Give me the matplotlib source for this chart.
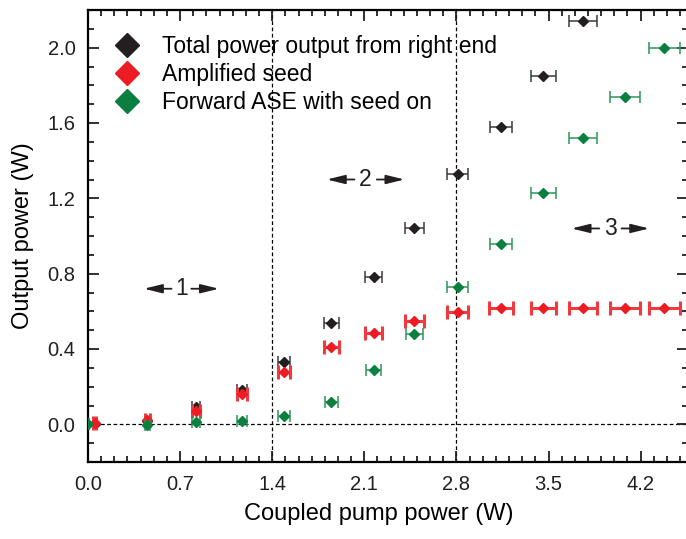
import matplotlib.pyplot as plt
from matplotlib.ticker import MultipleLocator, FormatStrFormatter
from matplotlib.lines import Line2D

plt.rcParams['font.family'] = ['Liberation Sans', 'DejaVu Sans']

# Data
pump_total = [0.05, 0.45, 0.82, 1.17, 1.49, 1.85, 2.17, 2.48, 2.81, 3.14, 3.46, 3.76]
total_out = [0.00, 0.02, 0.09, 0.18, 0.33, 0.54, 0.78, 1.04, 1.33, 1.58, 1.85, 2.14]
total_err = [0.01, 0.02, 0.03, 0.04, 0.045, 0.06, 0.065, 0.07, 0.078, 0.085, 0.095, 0.105]

pump_seed = [0.05, 0.45, 0.82, 1.17, 1.49, 1.85, 2.17, 2.48, 2.81, 3.14, 3.46, 3.76, 4.08, 4.38]
seed_out = [0.005, 0.025, 0.07, 0.16, 0.28, 0.41, 0.485, 0.55, 0.595, 0.62, 0.62, 0.62, 0.62, 0.62]
seed_err = [0.01, 0.02, 0.03, 0.04, 0.045, 0.055, 0.065, 0.07, 0.078, 0.09, 0.095, 0.105, 0.115, 0.12]

pump_ase = [0.0, 0.45, 0.82, 1.17, 1.49, 1.85, 2.17, 2.48, 2.81, 3.14, 3.46, 3.76, 4.08, 4.38]
ase_out = [0.0, -0.005, 0.01, 0.02, 0.045, 0.12, 0.29, 0.48, 0.73, 0.96, 1.23, 1.52, 1.74, 2.00]
ase_err = [0.01, 0.02, 0.03, 0.04, 0.045, 0.05, 0.055, 0.065, 0.078, 0.085, 0.095, 0.105, 0.115, 0.12]

labels = ['Total power output from right end', 'Amplified seed', 'Forward ASE with seed on']

black = '#231f20'
red = '#ed1c24'
green = '#0a7f3f'

fig = plt.figure(figsize=(6.86, 5.39), dpi=100)
ax = fig.add_axes([88 / 686, 77 / 539, 600 / 686, 452 / 539])
ax.set_xlim(0, 4.56)
ax.set_ylim(-0.2, 2.2)

# reference lines
ax.axvline(1.4, color='k', lw=0.9, ls=(0, (3, 2)), zorder=1)
ax.axvline(2.8, color='k', lw=0.9, ls=(0, (3, 2)), zorder=1)
ax.axhline(0.0, color='k', lw=0.9, ls=(0, (3, 2)), zorder=1)

# series
ax.errorbar(pump_total, total_out, xerr=total_err, fmt='D', ms=5.5,
            color=black, ecolor='#3a3a3a', elinewidth=1.1, capsize=4, capthick=1.1, zorder=3)
ax.errorbar(pump_seed, seed_out, xerr=seed_err, fmt='D', ms=5.5,
            color=red, ecolor='#ef3a3f', elinewidth=2.2, capsize=5, capthick=2.2, zorder=4)
ax.errorbar(pump_ase, ase_out, xerr=ase_err, fmt='D', ms=5.5,
            color=green, ecolor='#2e9559', elinewidth=1.1, capsize=4, capthick=1.1, zorder=5)

# region markers
def region(x, y, label, half_gap, length):
    ax.text(x, y, label, ha='center', va='center', fontsize=16.5, color=black)
    for sgn in (-1, 1):
        ax.annotate('', xy=(x + sgn * (half_gap + length), y), xytext=(x + sgn * half_gap, y),
                    arrowprops=dict(arrowstyle='-|>,head_length=1.1,head_width=0.27',
                                    color=black, lw=1.3, shrinkA=0, shrinkB=0))

region(0.71, 0.72, '1', 0.075, 0.21)
region(2.11, 1.30, '2', 0.085, 0.21)
region(3.97, 1.04, '3', 0.085, 0.21)

# axes formatting
ax.xaxis.set_major_locator(MultipleLocator(0.7))
ax.xaxis.set_minor_locator(MultipleLocator(0.1))
ax.yaxis.set_major_locator(MultipleLocator(0.4))
ax.yaxis.set_minor_locator(MultipleLocator(0.1))
ax.xaxis.set_major_formatter(FormatStrFormatter('%.1f'))
ax.yaxis.set_major_formatter(FormatStrFormatter('%.1f'))
ax.tick_params(which='both', direction='in', top=True, right=True, width=1.3, colors=black)
ax.tick_params(which='major', length=8, labelsize=14.5, pad=9)
ax.tick_params(which='minor', length=4.5)
for sp in ax.spines.values():
    sp.set_linewidth(1.6)

ax.set_xlabel('Coupled pump power (W)', fontsize=17)
ax.xaxis.set_label_coords(0.485, -0.09)
ax.set_ylabel('Output power (W)', fontsize=17, labelpad=10)

handles = [Line2D([], [], marker='D', ls='', ms=12, color=c) for c in (black, red, green)]
ax.legend(handles, labels, loc='upper left', bbox_to_anchor=(0.0, 0.99), frameon=False,
          fontsize=16.5, handletextpad=0.75, labelspacing=0.22, borderaxespad=0.5, handlelength=1.6)

fig.savefig('out.png', dpi=100)
